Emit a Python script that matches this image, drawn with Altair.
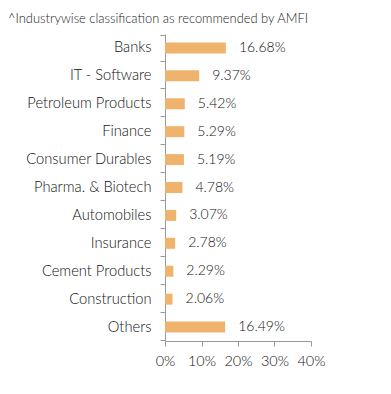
import altair as alt
import pandas as pd

categories = ["Banks", "IT - Software", "Petroleum Products", "Finance", "Consumer Durables",
              "Pharma. & Biotech", "Automobiles", "Insurance", "Cement Products", "Construction", "Others"]
values = [16.68, 9.37, 5.42, 5.29, 5.19, 4.78, 3.07, 2.78, 2.29, 2.06, 16.49]
x_ticks = [0, 10, 20, 30, 40]

df = pd.DataFrame({"cat": categories, "val": [v / 100 for v in values],
                   "lab": [f"{v:.2f}%" for v in values]})

FONT = "Lato"
W = 300
y = alt.Y("cat:N", sort=categories, title=None,
          axis=alt.Axis(tickBand="extent", domainColor="#999999", tickColor="#999999",
                        tickSize=5, labelPadding=9, labelFont=FONT, labelFontSize=14.7,
                        labelFontWeight=W, labelColor="#111111", labelLimit=200))
x = alt.X("val:Q", title=None, scale=alt.Scale(domain=[0, 0.4]),
          axis=alt.Axis(values=[t / 100 for t in x_ticks], format=".0%", grid=False,
                        labelOverlap=False, labelFlush=False, domainColor="#999999",
                        tickColor="#999999", tickSize=5,
                        labelFont=FONT, labelFontSize=14.5, labelFontWeight=W, labelColor="#111111",
                        labelPadding=8))

base = alt.Chart(df).encode(x=x, y=y)
bars = base.mark_bar(color="#F0B36E", size=11)
text = base.mark_text(align="left", dx=13, font=FONT, fontSize=14, fontWeight=W,
                      color="#111111").encode(text="lab:N")

chart = (bars + text).properties(
    width=146, height=307,
    padding={"left": 0, "top": 5, "right": 5, "bottom": 5},
    title=alt.TitleParams("^Industrywise classification as recommended by AMFI", anchor="start",
                          frame="group", font=FONT, fontSize=12.9, fontWeight=W,
                          color="#222222", offset=0, dx=-157),
).configure_view(stroke=None)

chart.save("out.html", embed_options={"renderer": "svg", "actions": False})
